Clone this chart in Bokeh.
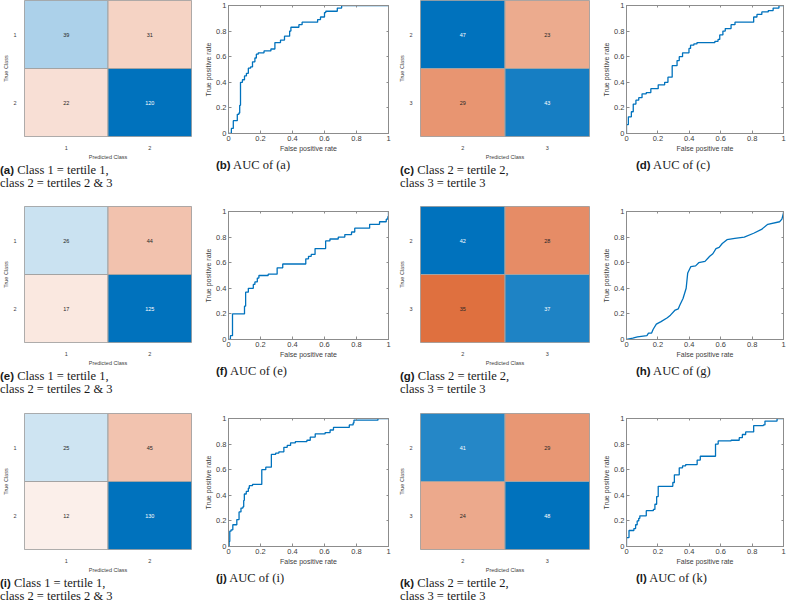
from bokeh.plotting import figure
from bokeh.models import Range1d, FactorRange, FixedTicker, Div, ColumnDataSource, NumeralTickFormatter, LinearAxis
from bokeh.layouts import row, column
from bokeh.embed import file_html
from bokeh.resources import INLINE
from bokeh.core.properties import value

# ---------------- data ----------------
classes_a = ["1", "2"]
classes_b = ["2", "3"]
cm_a = [[39, 31], [22, 120]]
cm_c = [[47, 23], [29, 43]]
cm_e = [[26, 44], [17, 125]]
cm_g = [[42, 28], [35, 37]]
cm_i = [[25, 45], [12, 130]]
cm_k = [[41, 29], [24, 48]]

roc_b_fpr = [0, 0.018, 0.03, 0.045, 0.055, 0.065, 0.07, 0.075, 0.087, 0.1, 0.112, 0.124, 0.138, 0.15, 0.165,
             0.174, 0.186, 0.222, 0.265, 0.29, 0.325, 0.35, 0.382, 0.39, 0.44, 0.46, 0.557, 0.575, 0.6, 0.608,
             0.68, 0.707, 1.0]
roc_b_tpr = [0, 0.04, 0.1, 0.1, 0.15, 0.16, 0.22, 0.40, 0.42, 0.45, 0.47, 0.51, 0.52, 0.56, 0.59,
             0.62, 0.63, 0.645, 0.66, 0.71, 0.73, 0.76, 0.80, 0.83, 0.85, 0.87, 0.89, 0.91, 0.945, 0.955,
             0.98, 1.0, 1.0]

roc_d_fpr = [0, 0, 0.012, 0.031, 0.043, 0.06, 0.078, 0.099, 0.126, 0.155, 0.202, 0.243, 0.264, 0.291, 0.322,
             0.336, 0.357, 0.398, 0.408, 0.429, 0.449, 0.563, 0.583, 0.594, 0.614, 0.629, 0.666, 0.691, 0.81,
             0.831, 0.862, 0.903, 0.934, 0.971, 1.0]
roc_d_tpr = [0, 0.07, 0.13, 0.17, 0.23, 0.26, 0.28, 0.31, 0.32, 0.35, 0.38, 0.40, 0.44, 0.53, 0.57,
             0.60, 0.63, 0.665, 0.69, 0.70, 0.71, 0.72, 0.735, 0.77, 0.80, 0.82, 0.85, 0.87, 0.91,
             0.93, 0.95, 0.96, 0.98, 1.0, 1.0]

roc_f_fpr = [0, 0.012, 0.025, 0.025, 0.07, 0.1, 0.107, 0.124, 0.155, 0.165, 0.18, 0.19, 0.248, 0.304, 0.339,
             0.483, 0.5, 0.517, 0.541, 0.607, 0.634, 0.686, 0.727, 0.769, 0.789, 0.882, 0.944, 0.986, 0.996, 1.0]
roc_f_tpr = [0, 0.03, 0.06, 0.20, 0.20, 0.26, 0.37, 0.40, 0.43, 0.45, 0.48, 0.50, 0.51, 0.56, 0.59,
             0.63, 0.65, 0.665, 0.71, 0.77, 0.785, 0.80, 0.82, 0.84, 0.87, 0.90, 0.92, 0.94, 0.96, 1.0]

roc_h_fpr = [0, 0.04, 0.07, 0.13, 0.14, 0.16, 0.17, 0.19, 0.22, 0.26, 0.28, 0.31, 0.33, 0.34, 0.36, 0.38,
             0.39, 0.41, 0.44, 0.46, 0.50, 0.53, 0.55, 0.57, 0.59, 0.61, 0.64, 0.69, 0.75, 0.81, 0.86, 0.90,
             0.975, 0.99, 1.0, 1.0]
roc_h_tpr = [0, 0.01, 0.02, 0.03, 0.05, 0.05, 0.08, 0.12, 0.14, 0.17, 0.19, 0.23, 0.24, 0.27, 0.32, 0.40,
             0.52, 0.57, 0.575, 0.60, 0.61, 0.65, 0.67, 0.71, 0.72, 0.75, 0.78, 0.79, 0.80, 0.83, 0.86, 0.90,
             0.92, 0.94, 0.99, 1.0]

roc_j_fpr = [0, 0.004, 0.008, 0.016, 0.027, 0.052, 0.066, 0.078, 0.09, 0.095, 0.099, 0.111, 0.124, 0.13, 0.15,
             0.208, 0.233, 0.268, 0.295, 0.315, 0.346, 0.367, 0.388, 0.418, 0.49, 0.511, 0.542, 0.604, 0.635,
             0.656, 0.755, 0.779, 0.784, 0.934, 1.0]
roc_j_tpr = [0, 0.04, 0.12, 0.13, 0.17, 0.21, 0.27, 0.30, 0.31, 0.36, 0.41, 0.43, 0.455, 0.475, 0.485,
             0.60, 0.62, 0.72, 0.73, 0.74, 0.775, 0.79, 0.81, 0.82, 0.83, 0.855, 0.88, 0.89, 0.91,
             0.93, 0.95, 0.965, 0.987, 1.0, 1.0]

roc_l_fpr = [0, 0, 0.016, 0.047, 0.058, 0.068, 0.078, 0.085, 0.126, 0.171, 0.181, 0.192, 0.202, 0.295, 0.305,
             0.336, 0.357, 0.377, 0.45, 0.47, 0.567, 0.584, 0.666, 0.718, 0.738, 0.759, 0.81, 0.872, 0.882,
             0.959, 1.0]
roc_l_tpr = [0, 0.07, 0.125, 0.14, 0.17, 0.20, 0.22, 0.24, 0.28, 0.29, 0.33, 0.39, 0.47, 0.50, 0.56,
             0.615, 0.63, 0.64, 0.675, 0.705, 0.80, 0.825, 0.83, 0.85, 0.875, 0.895, 0.945, 0.95, 0.98,
             1.0, 1.0]

roc_ticks = [0, 0.2, 0.4, 0.6, 0.8, 1]

cap_left = ("Class 1 = tertile 1,", "class 2 = tertiles 2 &amp; 3")
cap_mid = ("Class 2 = tertile 2,", "class 3 = tertile 3")
letters = ["a", "b", "c", "d", "e", "f", "g", "h", "i", "j", "k", "l"]

# ---------------- styling helpers ----------------
BLUE = (0, 114, 189)
ORANGE = (217, 83, 25)
AX_COL = "#8c8c8c"
TXT_COL = "#404040"
SANS = "Liberation Sans"
FIG_H = 157


def blend(base, t):
    return "#%02x%02x%02x" % tuple(int(round(255 * (1 - t) + c * t)) for c in base)


def cm_fig(mat, labels, mbl, fw, mbr):
    vmax = max(max(r) for r in mat)
    xs, ys, vals, fills, tcols = [], [], [], [], []
    for i, tl in enumerate(labels):
        for j, pl in enumerate(labels):
            v = mat[i][j]
            t = v / vmax
            diag = i == j
            xs.append(pl)
            ys.append(tl)
            vals.append(str(v))
            fills.append(blend(BLUE if diag else ORANGE, t))
            tcols.append("#ffffff" if (diag and t > 0.6) else "#262626")
    src = ColumnDataSource(dict(x=xs, y=ys, v=vals, fill=fills, tc=tcols))
    p = figure(x_range=FactorRange(*labels), y_range=FactorRange(*labels[::-1]), title=None,
               frame_width=fw, frame_height=136,
               min_border_left=mbl, min_border_right=mbr, min_border_top=0, min_border_bottom=FIG_H - 136,
               output_backend="svg", toolbar_location=None, tools="")
    p.rect("x", "y", 1, 1, source=src, fill_color="fill", line_color="#a3a3a3", line_width=1)
    p.text("x", "y", text="v", source=src, text_color="tc", text_align="center",
           text_baseline="middle", text_font=value(SANS), text_font_size="5.5px")
    p.grid.visible = False
    p.outline_line_color = "#a3a3a3"
    p.xaxis.axis_label = "Predicted Class"
    p.yaxis.axis_label = "True Class"
    for ax in (p.xaxis[0], p.yaxis[0]):
        ax.axis_line_color = None
        ax.major_tick_line_color = None
        ax.minor_tick_line_color = None
        ax.major_label_text_font = SANS
        ax.major_label_text_font_size = "5.5px"
        ax.major_label_text_color = TXT_COL
        ax.axis_label_text_font = SANS
        ax.axis_label_text_font_size = "5.5px"
        ax.axis_label_text_font_style = "normal"
        ax.axis_label_text_color = TXT_COL
    p.xaxis.major_label_standoff = 3
    p.xaxis.axis_label_standoff = 1
    p.yaxis.major_label_standoff = 2
    p.yaxis.axis_label_standoff = 1
    return p


def box_axis():
    return LinearAxis(ticker=FixedTicker(ticks=roc_ticks), major_label_text_font_size="0px",
                      major_label_text_alpha=0, major_label_standoff=0, major_tick_in=2, major_tick_out=0,
                      minor_tick_line_color=None, axis_line_color=AX_COL, major_tick_line_color=AX_COL)


def roc_fig(fpr, tpr, mbl, fw, mbr, stepped=True):
    p = figure(x_range=Range1d(0, 1), y_range=Range1d(0, 1), title=None,
               frame_width=fw, frame_height=128,
               min_border_left=mbl, min_border_right=mbr, min_border_top=5, min_border_bottom=FIG_H - 133,
               output_backend="svg", toolbar_location=None, tools="")
    if stepped:
        p.step(fpr, tpr, mode="after", line_color="#0072BD", line_width=1.3)
    else:
        p.line(fpr, tpr, line_color="#0072BD", line_width=1.3)
    p.grid.visible = False
    p.outline_line_color = AX_COL
    p.xaxis.axis_label = "False positive rate"
    p.yaxis.axis_label = "True positive rate"
    for ax in (p.xaxis[0], p.yaxis[0]):
        ax.ticker = FixedTicker(ticks=roc_ticks)
        ax.formatter = NumeralTickFormatter(format="0.[0]")
        ax.major_tick_in = 3
        ax.major_tick_out = 0
        ax.minor_tick_line_color = None
        ax.axis_line_color = AX_COL
        ax.major_tick_line_color = AX_COL
        ax.major_label_text_font = SANS
        ax.major_label_text_font_size = "7.5px"
        ax.major_label_text_color = TXT_COL
        ax.axis_label_text_font = SANS
        ax.axis_label_text_font_size = "7px"
        ax.axis_label_text_font_style = "normal"
        ax.axis_label_text_color = TXT_COL
        ax.major_label_standoff = 2
        ax.axis_label_standoff = 1
    p.add_layout(box_axis(), "above")
    p.add_layout(box_axis(), "right")
    return p


def caption(letter, lines, width, height, pad_left, center):
    style = ("font-family:'Liberation Serif',serif;font-size:12.5px;line-height:13px;color:#1a1a1a;"
             "margin:0;padding-top:2px;padding-left:%dpx;%s" % (pad_left, "text-align:center;" if center else ""))
    lab = ("<span style=\"font-family:'Liberation Sans',sans-serif;font-weight:700;font-size:11.5px\">"
           "(%s)</span> " % letter)
    html = "<div style=\"%s\">%s%s</div>" % (style, lab, "<br>".join(lines))
    return Div(text=html, width=width, height=height, styles={"margin": "0", "padding": "0"})


cms = [(cm_a, classes_a), (cm_c, classes_b), (cm_e, classes_a), (cm_g, classes_b), (cm_i, classes_a), (cm_k, classes_b)]
rocs = [(roc_b_fpr, roc_b_tpr, True), (roc_d_fpr, roc_d_tpr, True),
        (roc_f_fpr, roc_f_tpr, True), (roc_h_fpr, roc_h_tpr, False),
        (roc_j_fpr, roc_j_tpr, True), (roc_l_fpr, roc_l_tpr, True)]
cap_heights = [44, 45, 35]

rows = []
for r in range(3):
    ch = cap_heights[r]
    la, lb, lc, ld = letters[4 * r:4 * r + 4]
    m1, c1 = cms[2 * r]
    m2, c2 = cms[2 * r + 1]
    f1, t1, s1 = rocs[2 * r]
    f2, t2, s2 = rocs[2 * r + 1]
    col1 = column(cm_fig(m1, c1, 14, 167, 10), caption(la, cap_left, 191, ch, 0, False), spacing=0)
    col2 = column(roc_fig(f1, t1, 27, 160, 4, s1),
                  caption(lb, ("AUC of (%s)" % la,), 191, ch, 15, True), spacing=0)
    col3 = column(cm_fig(m2, c2, 28, 169, 2), caption(lc, cap_mid, 199, ch, 8, False), spacing=0)
    col4 = column(roc_fig(f2, t2, 35, 157, 3, s2),
                  caption(ld, ("AUC of (%s)" % lc,), 195, ch, 45, True), spacing=0)
    rows.append(row(col1, col2, col3, col4, spacing=0))

layout = column(*rows, spacing=0)

open("out.html", "w").write(file_html(layout, INLINE))
